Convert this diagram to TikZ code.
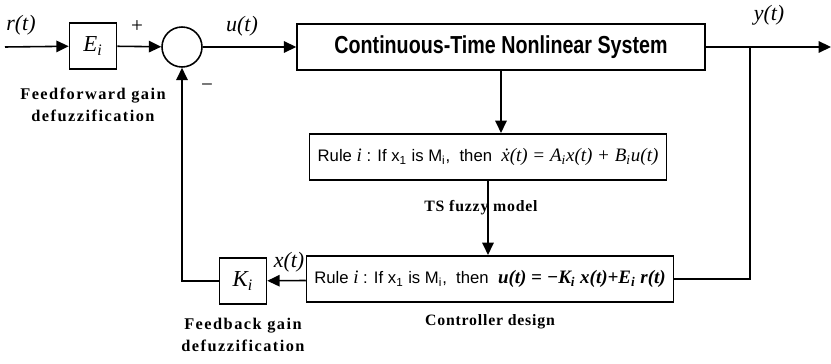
\documentclass[tikz,border=0pt]{standalone}
\usepackage{fontspec}
\setmainfont{Liberation Serif}
\setsansfont{Liberation Sans}
\newfontfamily\tagfont[LetterSpace=5]{Liberation Serif}
\newfontfamily\widetagfont[LetterSpace=9]{Liberation Serif}
\newfontfamily\plantfont[FakeStretch=0.8]{Liberation Sans}
\usetikzlibrary{arrows.meta,positioning,calc}
\newcommand{\fm}[1]{{\rmfamily\itshape\fontsize{10.8}{13}\selectfont #1}}

\begin{document}
\begin{tikzpicture}[
    x=0.02cm, y=0.02cm,
    gain/.style={draw, line width=0.9pt, minimum width=0.94cm, minimum height=0.92cm, inner sep=0pt, font=\itshape\fontsize{13}{15}\selectfont},
    sum/.style={circle, draw, line width=0.9pt, minimum size=0.8cm, inner sep=0pt},
    rulebox/.style={draw, line width=0.9pt, minimum height=0.93cm, inner sep=0pt, font=\sffamily\fontsize{9.5}{12}\selectfont},
    sig/.style={font=\itshape\fontsize{12.5}{14}\selectfont},
    tag/.style={font=\tagfont\bfseries\fontsize{9}{12.5}\selectfont, align=center},
    sidetag/.style={font=\widetagfont\bfseries\fontsize{9.3}{12.5}\selectfont, align=center},
    arr/.style={-{Triangle[length=7pt,width=6.5pt]}, line width=0.9pt},
    wire/.style={line width=0.9pt}
]
    \useasboundingbox (0,0) rectangle (831,-364);

    % forward path
    \coordinate (rin) at (5,-47);
    \node[gain] (Ei) at (93,-46) {E\textsubscript{i}};
    \node[sum] (sum) at (182,-47) {};
    \node[draw, line width=0.9pt, minimum width=8.16cm, minimum height=0.92cm, inner sep=0pt,
          font=\plantfont\bfseries\fontsize{14}{15}\selectfont] (sys) at (501,-47) {Continuous-Time Nonlinear System};
    \coordinate (ybr) at (750,-47);
    \coordinate (yout) at (831,-47);

    % fuzzy model and controller
    \node[rulebox, minimum width=7.14cm] (model) at (488,-157)
        {Rule \fm{i} : If x\textsubscript{1} is M\textsubscript{i},\ \ then\ \ \fm{\.{x}(t) = A\textsubscript{i}x(t) + B\textsubscript{i}u(t)}};
    \node[rulebox, minimum width=7.34cm] (ctrl) at (490,-279)
        {Rule \fm{i} : If x\textsubscript{1} is M\textsubscript{i},\ \ then\ \ \fm{\bfseries u(t) = −K\textsubscript{i} x(t)+E\textsubscript{i} r(t)}};
    \node[gain] (Ki) at (243,-281) {K\textsubscript{i}};
    \coordinate (kbend) at (182,-281);

    % labels
    \node[sig] (rlab) at (21,-25) {r(t)};
    \node[sig] (ulab) at (242,-26) {u(t)};
    \node[sig] (ylab) at (769,-15) {y(t)};
    \node[sig] (xlab) at (289,-262) {x(t)};
    \node[font=\fontsize{12}{13}\selectfont] (plus) at (137,-27) {+};
    \node[font=\fontsize{12}{13}\selectfont] (minus) at (207,-88) {−};
    \node[sidetag] (fftag) at (93,-105) {Feedforward gain\\defuzzification};
    \node[sidetag] (fbtag) at (243,-335) {Feedback gain\\defuzzification};
    \node[tag] (tstag) at (481,-208) {TS fuzzy model};
    \node[tag] (ctag) at (490,-322) {Controller design};

    % connectors
    \draw[arr] (rin) -- (Ei);
    \draw[arr] (Ei) -- (sum);
    \draw[arr] (sum) -- (sys);
    \draw[arr] (sys) -- (yout);
    \draw[arr] (sys.south) -- (sys.south |- model.north);
    \draw[arr] (model) -- (model |- ctrl.north);
    \draw[wire] (ybr) |- (ctrl.east);
    \draw[arr] (ctrl) -- (Ki);
    \draw[arr] (Ki.west) -- (kbend) -- (sum.south);
\end{tikzpicture}
\end{document}
